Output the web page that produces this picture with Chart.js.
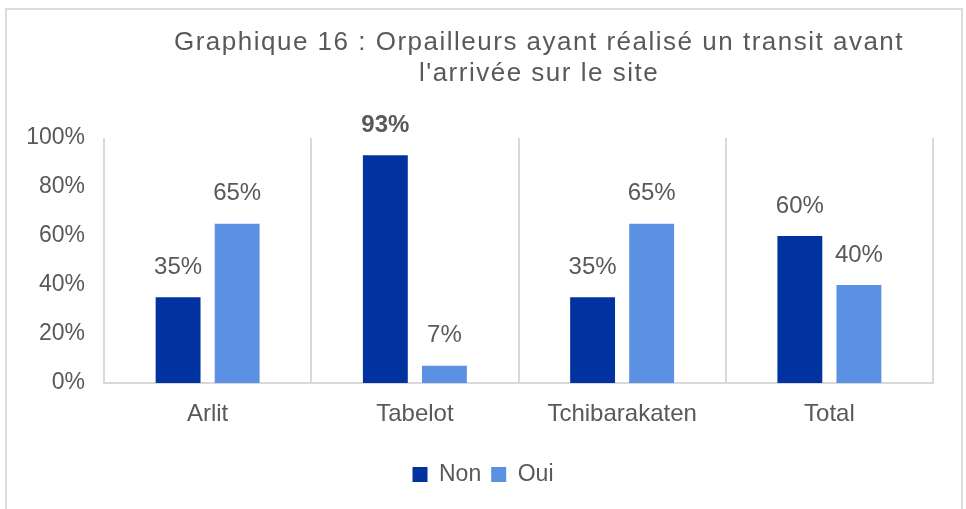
<!DOCTYPE html>
<html>
<head>
<meta charset="utf-8">
<script src="https://cdn.jsdelivr.net/npm/chart.js@4/dist/chart.umd.min.js"></script>
<style>
  body { margin: 0; background: #fff; }
  #wrap { position: relative; width: 966px; height: 509px; overflow: hidden; }
  #frame { position: absolute; left: 5px; top: 8px; width: 954px; height: 520px;
           border: 2px solid #dcdcdc; box-sizing: content-box; }
  #title { position: absolute; left: 140px; width: 798px; top: 26px; text-align: center;
           font-family: "Liberation Sans", Arial, sans-serif; font-size: 26px; line-height: 31px;
           letter-spacing: 1.5px; color: #595959; }
  canvas { position: absolute; left: 0; top: 0; }
</style>
</head>
<body>
<div id="wrap">
  <div id="frame"></div>
  <canvas id="chart" width="966" height="509"></canvas>
  <div id="title">Graphique 16 : Orpailleurs ayant réalisé un transit avant<br>l'arrivée sur le site</div>
</div>
<script>
const categories = ["Arlit", "Tabelot", "Tchibarakaten", "Total"];
const nonValues = [35, 93, 35, 60];
const ouiValues = [65, 7, 65, 40];
const yTicks = [0, 20, 40, 60, 80, 100];
const boldLabel = { dataset: 0, index: 1 };

const textColor = "#595959";
const fontFamily = "'Liberation Sans', Arial, sans-serif";

// value labels above each bar
const valueLabels = {
  id: "valueLabels",
  afterDatasetsDraw(chart) {
    const ctx = chart.ctx;
    ctx.save();
    ctx.fillStyle = textColor;
    ctx.textAlign = "center";
    ctx.textBaseline = "middle";
    chart.data.datasets.forEach((ds, di) => {
      chart.getDatasetMeta(di).data.forEach((bar, i) => {
        const bold = di === boldLabel.dataset && i === boldLabel.index;
        ctx.font = (bold ? "bold " : "") + "24px " + fontFamily;
        ctx.fillText(ds.data[i] + "%", bar.x, bar.y - 30);
      });
    });
    ctx.restore();
  }
};

new Chart(document.getElementById("chart"), {
  type: "bar",
  data: {
    labels: categories,
    datasets: [
      { label: "Non", data: nonValues, backgroundColor: "#0033a0", yAxisID: "y" },
      { label: "Oui", data: ouiValues, backgroundColor: "#5b90e3", yAxisID: "y" }
    ]
  },
  plugins: [valueLabels],
  options: {
    responsive: false,
    animation: false,
    categoryPercentage: 0.57,
    barPercentage: 0.76,
    layout: { padding: { top: 138, right: 0, left: 0, bottom: 13 } },
    scales: {
      x: {
        afterFit(scale) { scale.height = 70; },
        grid: { display: true, color: "#d9d9d9", lineWidth: 2, drawTicks: false, offset: true },
        border: { display: true, color: "#d9d9d9", width: 2 },
        ticks: { color: textColor, font: { family: fontFamily, size: 24 }, padding: 17 }
      },
      y: {
        min: 0,
        max: 100,
        afterFit(scale) { scale.width = 104; },
        afterBuildTicks(scale) { scale.ticks = yTicks.map(v => ({ value: v })); },
        grid: { display: false, drawTicks: false },
        border: { display: false },
        ticks: {
          color: textColor,
          font: { family: fontFamily, size: 23 },
          padding: 19,
          callback: v => v + "%"
        }
      },
      // empty right margin so the legend stays centred on the page
      yRight: {
        position: "right",
        min: 0,
        max: 100,
        afterFit(scale) { scale.width = 33; },
        grid: { display: false, drawTicks: false },
        border: { display: false },
        ticks: { display: false }
      }
    },
    plugins: {
      legend: {
        position: "bottom",
        labels: {
          color: textColor,
          font: { family: fontFamily, size: 23 },
          boxWidth: 15,
          boxHeight: 15,
          padding: 10
        }
      },
      tooltip: { enabled: false },
      title: { display: false }
    }
  }
});
</script>
</body>
</html>
